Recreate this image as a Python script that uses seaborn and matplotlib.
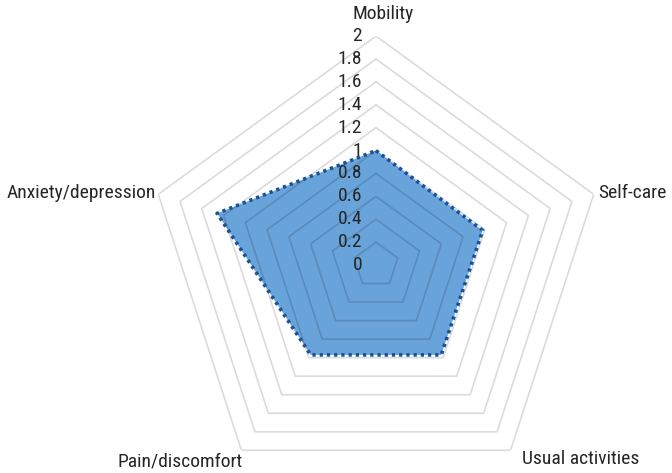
import numpy as np
import matplotlib
matplotlib.use("Agg")
import matplotlib.pyplot as plt
from matplotlib import font_manager
import seaborn as sns

# Data
categories = ["Mobility", "Self-care", "Usual activities", "Pain/discomfort", "Anxiety/depression"]
values = [1.0, 0.98, 0.97, 0.97, 1.46]
levels = [0.2, 0.4, 0.6, 0.8, 1.0, 1.2, 1.4, 1.6, 1.8, 2.0]
tick_labels = ["0", "0.2", "0.4", "0.6", "0.8", "1", "1.2", "1.4", "1.6", "1.8", "2"]

sns.set_style("white")

# pick a condensed sans if one is installed
wanted = ["Roboto Condensed", "Arial Narrow", "Liberation Sans Narrow", "PT Sans Narrow",
          "Archivo Narrow", "Fira Sans Condensed", "IBM Plex Sans Condensed",
          "Barlow Semi Condensed", "Open Sans Condensed", "Roboto"]
have = {f.name for f in font_manager.fontManager.ttflist}
font = next((w for w in wanted if w in have), "DejaVu Sans")
plt.rcParams["font.family"] = [font, "DejaVu Sans"]

fig = plt.figure(figsize=(6.72, 4.73), dpi=100)
ax = fig.add_axes([0.21875, -0.0444, 0.6815, 0.968], projection="polar")
ax.set_theta_offset(np.pi / 2)
ax.set_theta_direction(-1)
ax.set_ylim(0, 2)
ax.grid(False)
ax.spines["polar"].set_visible(False)
ax.set_xticks([])
ax.set_yticks([])

n = len(categories)
angles = np.linspace(0, 2 * np.pi, n, endpoint=False)
ang_closed = np.append(angles, angles[0])
vals_closed = np.append(values, values[0])

# series fill
ax.fill(ang_closed, vals_closed, color="#68A3DA", zorder=2, linewidth=0)

# pentagon grid, semi transparent so it shows darker inside the fill
for lv in levels:
    ax.plot(ang_closed, [lv] * (n + 1), color=(0, 0, 0, 0.14), lw=1.2, zorder=3)

# dotted outline
ax.plot(ang_closed, vals_closed, color="#1B5196", lw=2.6, ls=(0, (0.9, 1.1)), zorder=4)

# value labels along the top axis
lab_levels = [0.0] + levels
for lv, lab in zip(lab_levels, tick_labels):
    ax.annotate(lab, xy=(0, lv), xytext=(-10, 0), textcoords="offset points",
                ha="right", va="center", fontsize=14, color="#262626")

# category labels
offsets = [(5, 16, "center"), (3, 1, "left"), (8, -6, "left"), (1, -8, "right"), (-2, 1, "right")]
for a, cat, (dx, dy, ha) in zip(angles, categories, offsets):
    ax.annotate(cat, xy=(a, 2.0), xytext=(dx, dy), textcoords="offset points",
                ha=ha, va="center", fontsize=14, color="#262626")

fig.savefig("out.png", dpi=100)
